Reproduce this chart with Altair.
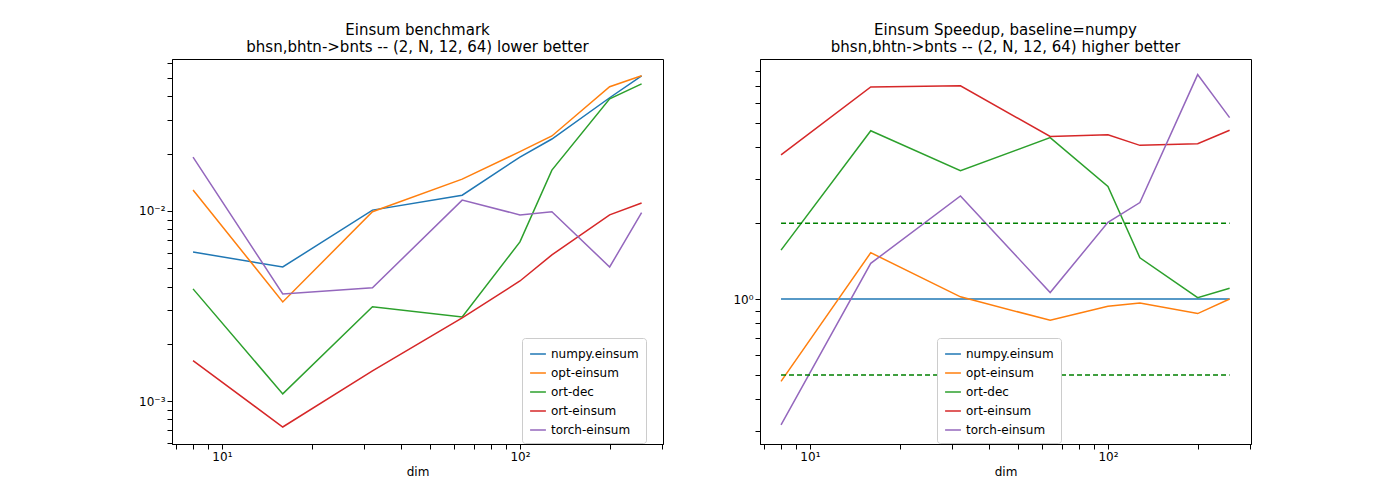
import altair as alt
import pandas as pd

dims = [8, 16, 32, 64, 100, 128, 200, 256]
numpy_t = [0.00608, 0.00507, 0.0101, 0.0121, 0.0192, 0.0239, 0.0394, 0.0514]
opt_t = [0.0129, 0.00332, 0.0099, 0.0147, 0.0205, 0.0248, 0.045, 0.0514]
ortdec_t = [0.00389, 0.00109, 0.00313, 0.00277, 0.00687, 0.0164, 0.0389, 0.0466]
orteins_t = [0.00163, 0.00073, 0.00144, 0.00274, 0.00428, 0.00587, 0.00953, 0.0110]
torch_t = [0.0192, 0.00366, 0.00394, 0.0114, 0.00953, 0.0099, 0.00507, 0.0098]

names = ["numpy.einsum", "opt-einsum", "ort-dec", "ort-einsum", "torch-einsum"]
series = [numpy_t, opt_t, ortdec_t, orteins_t, torch_t]
colors = ["#1f77b4", "#ff7f0e", "#2ca02c", "#d62728", "#9467bd"]

rows = []
for n, s in zip(names, series):
    for d, t, b in zip(dims, s, numpy_t):
        rows.append({"dim": d, "name": n, "time": t, "speedup": b / t})
df = pd.DataFrame(rows)

guides = pd.DataFrame({"dim": [8, 256, 8, 256], "y": [2, 2, 0.5, 0.5], "g": ["a", "a", "b", "b"]})

xticks = [7, 8, 9, 10, 20, 30, 40, 50, 60, 70, 80, 90, 100, 200, 300]
xaxis = alt.Axis(values=xticks, grid=False, title="dim",
                 labelExpr="datum.value == 10 ? '10¹' : datum.value == 100 ? '10²' : ''")
xscale = alt.Scale(type="log", domain=[6.8, 302], nice=False)
cscale = alt.Scale(domain=names, range=colors)

W, H = 491, 385

legend_style = dict(title=None, symbolType="stroke", strokeColor="#cccccc", fillColor="white",
                    padding=7, cornerRadius=3, labelFontSize=12, symbolSize=250,
                    symbolStrokeWidth=1.5, rowPadding=4)

left_y = [0.0006, 0.0007, 0.0008, 0.0009, 0.001, 0.002, 0.003, 0.004, 0.005, 0.006,
          0.007, 0.008, 0.009, 0.01, 0.02, 0.03, 0.04, 0.05, 0.06]
left = alt.Chart(df).mark_line(strokeWidth=1.5).encode(
    x=alt.X("dim:Q", scale=xscale, axis=xaxis),
    y=alt.Y("time:Q", scale=alt.Scale(type="log", domain=[0.000594, 0.063], nice=False),
            axis=alt.Axis(values=left_y, grid=False, title=None,
                          labelExpr="abs(datum.value - 0.01) < 1e-9 ? '10⁻²' : abs(datum.value - 0.001) < 1e-9 ? '10⁻³' : ''")),
    color=alt.Color("name:N", scale=cscale,
                    legend=alt.Legend(orient="none", legendX=350, legendY=279, **legend_style)),
).properties(width=W, height=H,
             title=["Einsum benchmark", "bhsn,bhtn->bnts -- (2, N, 12, 64) lower better"])

right_y = [0.3, 0.4, 0.5, 0.6, 0.7, 0.8, 0.9, 1, 2, 3, 4, 5, 6, 7, 8]
yscale_r = alt.Scale(type="log", domain=[0.266, 8.96], nice=False)
rlines = alt.Chart(df).mark_line(strokeWidth=1.5).encode(
    x=alt.X("dim:Q", scale=xscale, axis=xaxis),
    y=alt.Y("speedup:Q", scale=yscale_r,
            axis=alt.Axis(values=right_y, grid=False, title=None,
                          labelExpr="datum.value == 1 ? '10⁰' : ''")),
    color=alt.Color("name:N", scale=cscale,
                    legend=alt.Legend(orient="none", legendX=177, legendY=279, **legend_style)),
)
rguides = alt.Chart(guides).mark_line(color="green", strokeDash=[5, 3], strokeWidth=1.5).encode(
    x=alt.X("dim:Q", scale=xscale),
    y=alt.Y("y:Q", scale=yscale_r),
    detail="g:N",
)
right = alt.layer(rlines, rguides).properties(
    width=W, height=H,
    title=["Einsum Speedup, baseline=numpy", "bhsn,bhtn->bnts -- (2, N, 12, 64) higher better"])

chart = alt.hconcat(left, right, spacing=68).resolve_scale(color="independent").resolve_legend(
    color="independent"
).properties(
    padding={"left": 130, "top": 14, "right": 5, "bottom": 5}
).configure(font="DejaVu Sans").configure_title(
    fontSize=15, fontWeight="normal", font="DejaVu Sans"
).configure_axis(
    labelFontSize=12, titleFontSize=12, titleFontWeight="normal", domainColor="black",
    tickColor="black", labelColor="black"
).configure_view(stroke="black")

chart.save("out.html", embed_options={"renderer": "svg", "actions": False})
